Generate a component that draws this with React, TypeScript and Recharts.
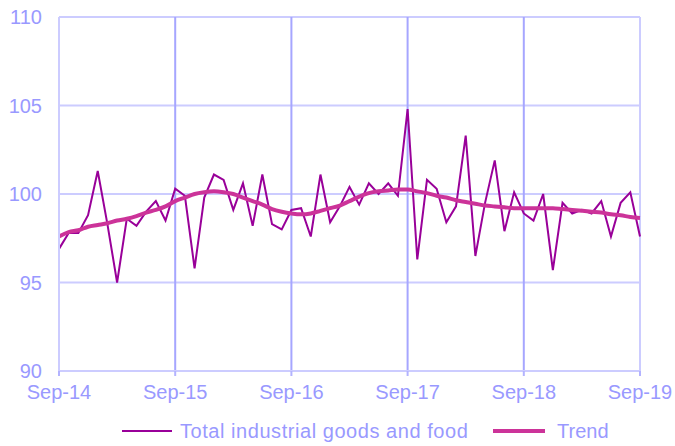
import React from 'react';
import { LineChart, Line, XAxis, YAxis, CartesianGrid, ReferenceLine, Legend } from 'recharts';

const xTickLabels = ['Sep-14', 'Sep-15', 'Sep-16', 'Sep-17', 'Sep-18', 'Sep-19'];
const xTickPositions = [0, 12, 24, 36, 48, 60];
const yTicks = [90, 95, 100, 105, 110];

const totalIndustrial = [
  96.9, 97.8, 97.8, 98.8, 101.3, 98.3, 95.0, 98.6, 98.2, 99.0, 99.6, 98.5,
  100.3, 99.9, 95.8, 99.8, 101.1, 100.8, 99.1, 100.6, 98.2, 101.1, 98.3, 98.0,
  99.1, 99.2, 97.6, 101.1, 98.4, 99.3, 100.4, 99.4, 100.6, 100.0, 100.6, 99.9,
  104.8, 96.3, 100.8, 100.3, 98.4, 99.3, 103.3, 96.5, 99.5, 101.9, 97.9, 100.1,
  98.9, 98.5, 100.0, 95.7, 99.5, 98.9, 99.1, 98.9, 99.6, 97.6, 99.5, 100.1,
  97.6,
];

const trend = [
  97.6, 97.85, 97.95, 98.15, 98.25, 98.35, 98.5, 98.6, 98.75, 98.95, 99.1, 99.3,
  99.6, 99.8, 100.0, 100.1, 100.15, 100.1, 100.0, 99.8, 99.6, 99.4, 99.15, 99.0,
  98.9, 98.85, 98.9, 99.05, 99.2, 99.35, 99.6, 99.85, 100.05, 100.15, 100.2, 100.25,
  100.25, 100.15, 100.05, 99.9, 99.8, 99.65, 99.55, 99.45, 99.35, 99.3, 99.25, 99.2,
  99.2, 99.2, 99.2, 99.2, 99.15, 99.1, 99.05, 99.0, 98.95, 98.85, 98.8, 98.7,
  98.65,
];

const rows = totalIndustrial.map((v, i) => ({ idx: i, total: v, trend: trend[i] }));

const TEXT = '#9999ff';
const FONT = '"Liberation Sans", Arial, sans-serif';

const LegendContent = () => (
  <div style={{ position: 'relative', height: 30, width: 675, fontFamily: FONT, fontSize: 20, color: TEXT }}>
    <svg width={675} height={30} style={{ position: 'absolute', left: 0, top: 0 }}>
      <line x1={122} x2={172} y1={15} y2={15} stroke="#990099" strokeWidth={2} />
      <line x1={493} x2={545} y1={15} y2={15} stroke="#cc3399" strokeWidth={4} />
    </svg>
    <span style={{ position: 'absolute', left: 180, top: 3, lineHeight: '24px', whiteSpace: 'nowrap', letterSpacing: '0.55px' }}>
      Total industrial goods and food
    </span>
    <span style={{ position: 'absolute', left: 557, top: 3, lineHeight: '24px', whiteSpace: 'nowrap' }}>
      Trend
    </span>
  </div>
);

export default function App() {
  return (
    <div style={{ position: 'absolute', left: 0, top: 0, width: 675, height: 446, background: '#fff' }}>
      <LineChart width={675} height={446} data={rows} margin={{ top: 17, right: 35, left: 0, bottom: 15 }}>
        <CartesianGrid horizontal={true} vertical={false} stroke="#ccccff" strokeWidth={2} />
        {xTickPositions.slice(1, 5).map((p) => (
          <ReferenceLine key={p} x={p} stroke="#a6a6ff" strokeWidth={2} />
        ))}
        <ReferenceLine x={60} stroke="#ccccff" strokeWidth={2} />
        <XAxis
          type="number"
          dataKey="idx"
          domain={[0, 60]}
          ticks={xTickPositions}
          tickFormatter={(v: number) => xTickLabels[xTickPositions.indexOf(v)]}
          interval={0}
          height={30}
          axisLine={{ stroke: '#ccccff', strokeWidth: 2 }}
          tickLine={{ stroke: '#b3b3ff', strokeWidth: 2 }}
          tickSize={5}
          tickMargin={9}
          tick={{ fill: TEXT, fontSize: 20, fontFamily: FONT }}
        />
        <YAxis
          domain={[90, 110]}
          ticks={yTicks}
          interval={0}
          width={59}
          axisLine={{ stroke: '#ccccff', strokeWidth: 2 }}
          tickLine={false}
          tickSize={0}
          tickMargin={17}
          tick={{ fill: TEXT, fontSize: 20, fontFamily: FONT }}
        />
        <Legend verticalAlign="bottom" content={<LegendContent />} wrapperStyle={{ left: 0, bottom: 0, width: 675, height: 30 }} />
        <Line
          type="linear"
          dataKey="total"
          name="Total industrial goods and food"
          stroke="#990099"
          strokeWidth={2}
          dot={false}
          isAnimationActive={false}
        />
        <Line
          type="monotone"
          dataKey="trend"
          name="Trend"
          stroke="#cc3399"
          strokeWidth={4}
          dot={false}
          isAnimationActive={false}
        />
      </LineChart>
    </div>
  );
}
